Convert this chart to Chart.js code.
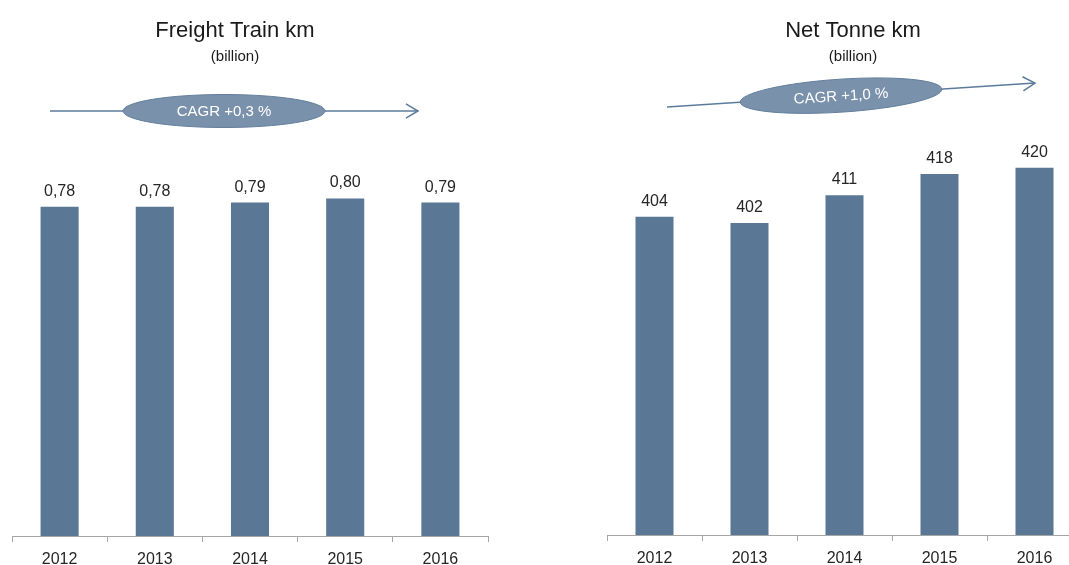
<!DOCTYPE html>
<html>
<head>
<meta charset="utf-8">
<script src="https://cdn.jsdelivr.net/npm/chart.js@4.4.1/dist/chart.umd.min.js"></script>
<style>
  html, body { margin: 0; padding: 0; background: #fff; overflow: hidden; }
  .chart-box { position: absolute; top: 0; }
  #leftBox { left: 0; }
  #rightBox { left: 540px; }
</style>
</head>
<body>
<div class="chart-box" id="leftBox"><canvas id="trainChart" width="540" height="565"></canvas></div>
<div class="chart-box" id="rightBox"><canvas id="tonneChart" width="560" height="565"></canvas></div>
<script>
// ==========================================
// 1. DATA
// ==========================================
const years = ['2012', '2013', '2014', '2015', '2016'];
const trainKm = [0.78, 0.78, 0.79, 0.80, 0.79];
const tonneKm = [404, 402, 411, 418, 420];

const trainTitle = 'Freight Train km';
const tonneTitle = 'Net Tonne km';
const unitText = '(billion)';
const trainCagr = 'CAGR +0,3 %';
const tonneCagr = 'CAGR +1,0 %';

const FONT = '"Liberation Sans", Arial, sans-serif';
Chart.defaults.font.family = FONT;

// ==========================================
// 2. OVERLAY (titles, value labels, CAGR arrow)
// ==========================================
const overlayPlugin = {
    id: 'overlay',
    afterDatasetsDraw(chart, args, opts) {
        const ctx = chart.ctx;
        ctx.save();

        // value labels above the bars
        const meta = chart.getDatasetMeta(0);
        const values = chart.data.datasets[0].data;
        ctx.fillStyle = '#262626';
        ctx.font = '16px ' + FONT;
        ctx.textAlign = 'center';
        ctx.textBaseline = 'alphabetic';
        meta.data.forEach((bar, i) => {
            ctx.fillText(opts.format(values[i]), bar.x, bar.y - 11);
        });

        // title + unit
        ctx.fillStyle = '#1a1a1a';
        ctx.font = '22px ' + FONT;
        ctx.fillText(opts.title, opts.titleX, 37);
        ctx.font = '15px ' + FONT;
        ctx.fillText(unitText, opts.titleX, 61);

        // arrow line
        const a = opts.arrow;
        const ang = Math.atan2(a.y2 - a.y1, a.x2 - a.x1);
        ctx.strokeStyle = '#5B7B9B';
        ctx.lineWidth = 1.5;
        ctx.beginPath();
        ctx.moveTo(a.x1, a.y1);
        ctx.lineTo(a.x2, a.y2);
        ctx.stroke();

        // arrow head (open)
        const hl = 14, ha = 0.53;
        ctx.beginPath();
        ctx.moveTo(a.x2 - hl * Math.cos(ang - ha), a.y2 - hl * Math.sin(ang - ha));
        ctx.lineTo(a.x2, a.y2);
        ctx.lineTo(a.x2 - hl * Math.cos(ang + ha), a.y2 - hl * Math.sin(ang + ha));
        ctx.stroke();

        // ellipse sitting on the line
        const cx = a.cx;
        const cy = a.y1 + (cx - a.x1) * (a.y2 - a.y1) / (a.x2 - a.x1);
        ctx.beginPath();
        ctx.ellipse(cx, cy, 101, 16.5, ang, 0, Math.PI * 2);
        ctx.fillStyle = '#7A91AB';
        ctx.fill();
        ctx.strokeStyle = '#627F9D';
        ctx.lineWidth = 1;
        ctx.stroke();

        // CAGR text
        ctx.translate(cx, cy);
        ctx.rotate(ang);
        ctx.fillStyle = '#ffffff';
        ctx.font = '15px ' + FONT;
        ctx.textBaseline = 'middle';
        ctx.fillText(opts.cagr, 0, 1);

        ctx.restore();
    }
};

// ==========================================
// 3. CHARTS
// ==========================================
function makeChart(canvasId, values, yMin, yMax, padding, axisHeight, overlay) {
    const ctx = document.getElementById(canvasId).getContext('2d');
    return new Chart(ctx, {
        type: 'bar',
        data: {
            labels: years,
            datasets: [{
                data: values,
                backgroundColor: '#5A7795',
                borderWidth: 0,
                categoryPercentage: 0.8,
                barPercentage: 0.5
            }]
        },
        options: {
            responsive: false,
            animation: false,
            layout: { padding: padding },
            plugins: {
                legend: { display: false },
                tooltip: { enabled: false },
                overlay: overlay
            },
            scales: {
                x: {
                    grid: { drawOnChartArea: false, color: '#A6A6A6', tickLength: 6, offset: true },
                    border: { color: '#A6A6A6', width: 1 },
                    ticks: { color: '#262626', font: { size: 16 }, padding: 8 },
                    afterFit(scale) { scale.height = axisHeight; }
                },
                y: {
                    display: false,
                    min: yMin,
                    max: yMax
                }
            }
        },
        plugins: [overlayPlugin]
    });
}

document.addEventListener('DOMContentLoaded', () => {
    makeChart('trainChart', trainKm, 0, 1.0,
        { left: 12, right: 52, top: 114, bottom: 0 }, 29, {
            title: trainTitle,
            cagr: trainCagr,
            titleX: 235,
            format: v => v.toFixed(2).replace('.', ','),
            arrow: { x1: 50, y1: 111, x2: 418, y2: 111, cx: 224 }
        });

    makeChart('tonneChart', tonneKm, 300, 450,
        { left: 67, right: 18, top: 76, bottom: 0 }, 30, {
            title: tonneTitle,
            cagr: tonneCagr,
            titleX: 313,
            format: v => String(v),
            arrow: { x1: 127, y1: 107, x2: 495, y2: 83, cx: 301 }
        });
});
</script>
</body>
</html>
